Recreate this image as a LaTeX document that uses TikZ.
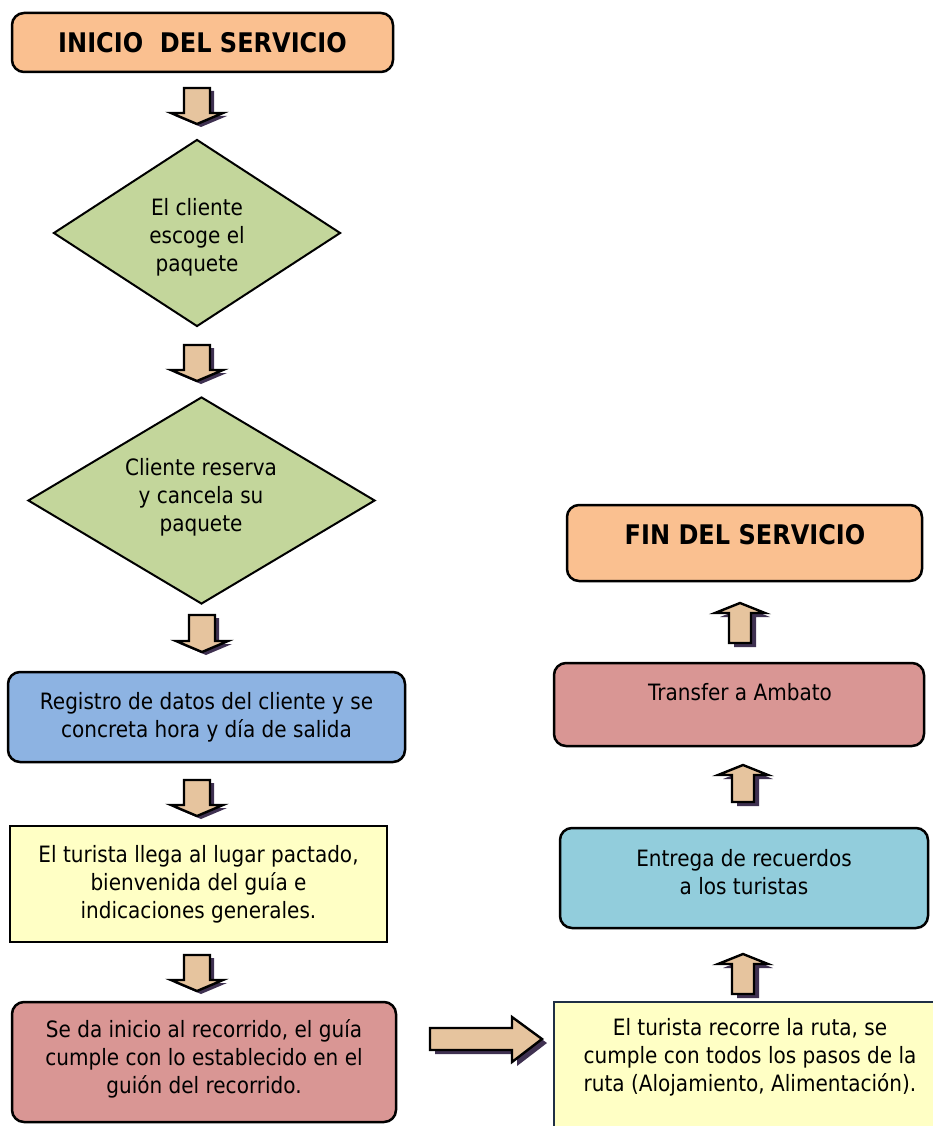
\documentclass[tikz,border=0pt]{standalone}
\usepackage{fontspec}
\setmainfont{DejaVu Sans}[FakeStretch=0.89]
\usetikzlibrary{shapes.geometric}
\definecolor{peach}{HTML}{FAC090}
\definecolor{greenc}{HTML}{C3D69B}
\definecolor{bluec}{HTML}{8DB3E2}
\definecolor{yellowc}{HTML}{FFFFC5}
\definecolor{redc}{HTML}{D99694}
\definecolor{cyanc}{HTML}{92CDDC}
\definecolor{arrowc}{HTML}{E6C49E}
\definecolor{shadowc}{HTML}{3F3151}
\definecolor{navy}{HTML}{1F2F45}
\newcommand\dnarshape[5]{\path[#1] ({#2-13},#3) -- ({#2+13},#3) -- ({#2+13},#4) -- ({#2+26},#4) -- (#2,#5) -- ({#2-26},#4) -- ({#2-13},#4) -- cycle;}
\newcommand\blkdown[4]{\dnarshape{shd,shift={(4,3)}}{#1}{#2}{#3}{#4}\dnarshape{arw}{#1}{#2}{#3}{#4}}
\newcommand\uparshape[5]{\path[#1] (#2,#3) -- ({#2+25},#4) -- ({#2+11},#4) -- ({#2+11},#5) -- ({#2-11},#5) -- ({#2-11},#4) -- ({#2-25},#4) -- cycle;}
\newcommand\blkup[4]{\uparshape{shd,shift={(5,4)}}{#1}{#2}{#3}{#4}\uparshape{arw}{#1}{#2}{#3}{#4}}
\begin{document}
\begin{tikzpicture}[x=1pt,y=-1pt,
  box/.style={draw=black, line width=2.5pt, rounded corners=12pt, inner sep=0pt, align=center, font=\fontsize{22.5}{28}\selectfont},
  sqbox/.style={draw=black, line width=2.3pt, inner sep=0pt, align=center, font=\fontsize{22.5}{28}\selectfont},
  diam/.style={diamond, draw=black, line width=2pt, fill=greenc, inner sep=0pt},
  txt/.style={align=center, inner sep=0pt, font=\fontsize{22.5}{28}\selectfont},
  ttl/.style={font=\fontsize{27}{28}\selectfont\bfseries},
  arw/.style={fill=arrowc, draw=black, line width=2.4pt, line join=miter},
  shd/.style={fill=shadowc}]
\useasboundingbox (0,0) rectangle (933,1126);

% left column
\node[box, fill=peach, minimum width=381pt, minimum height=59pt, ttl] (ini) at (202.5,42.5) {INICIO\ \ DEL SERVICIO};
\blkdown{197}{88}{113}{124}
\node[diam, minimum width=287pt, minimum height=187pt] (d1) at (197,233) {};
\node[txt] (d1t) at (197,237) {El cliente\\escoge el\\paquete};
\blkdown{197}{345}{370}{381}
\node[diam, minimum width=347pt, minimum height=207pt] (d2) at (201.5,500.5) {};
\node[txt] (d2t) at (201,497) {Cliente reserva\\y cancela su\\paquete};
\blkdown{202}{615}{641}{652}
\node[box, fill=bluec, minimum width=397pt, minimum height=90pt] (reg) at (206.5,717) {Registro de datos del cliente y se\\concreta hora y día de salida};
\blkdown{197}{780}{805}{816}
\node[sqbox, fill=yellowc, minimum width=377pt, minimum height=116pt] (lleg) at (198.5,884) {};
\node[txt] (llegt) at (198.5,884) {El turista llega al lugar pactado,\\bienvenida del guía e\\indicaciones generales.};
\blkdown{197}{955}{980}{991}
\node[box, fill=redc, minimum width=384pt, minimum height=120pt] (rec) at (204,1062) {};
\node[txt] (rect) at (204,1059) {Se da inicio al recorrido, el guía\\cumple con lo establecido en el\\guión del recorrido.};

% horizontal arrow
\path[shd, shift={(5,4)}] (430,1028) -- (512,1028) -- (512,1017) -- (542,1039) -- (512,1062) -- (512,1050) -- (430,1050) -- cycle;
\path[arw] (430,1028) -- (512,1028) -- (512,1017) -- (542,1039) -- (512,1062) -- (512,1050) -- (430,1050) -- cycle;

% right column
\node[sqbox, draw=navy, fill=yellowc, minimum width=390pt, minimum height=140pt] (ruta) at (749,1072) {};
\node[txt] (rutat) at (750,1057) {El turista recorre la ruta, se\\cumple con todos los pasos de la\\ruta (Alojamiento, Alimentación).};
\blkup{743}{954}{964}{994}
\node[box, fill=cyanc, minimum width=368pt, minimum height=100pt] (entr) at (744,878) {};
\node[txt] (entrt) at (744,872) {Entrega de recuerdos\\a los turistas};
\blkup{743}{765}{775}{802}
\node[box, fill=redc, minimum width=370pt, minimum height=83pt] (tra) at (739,704.5) {};
\node[txt] (trat) at (740,692) {Transfer a Ambato};
\blkup{740}{603}{613}{643}
\node[box, fill=peach, minimum width=355pt, minimum height=76pt, ttl] (fin) at (744.5,543) {};
\node[ttl] (fint) at (745,535) {FIN DEL SERVICIO};
\end{tikzpicture}
\end{document}
